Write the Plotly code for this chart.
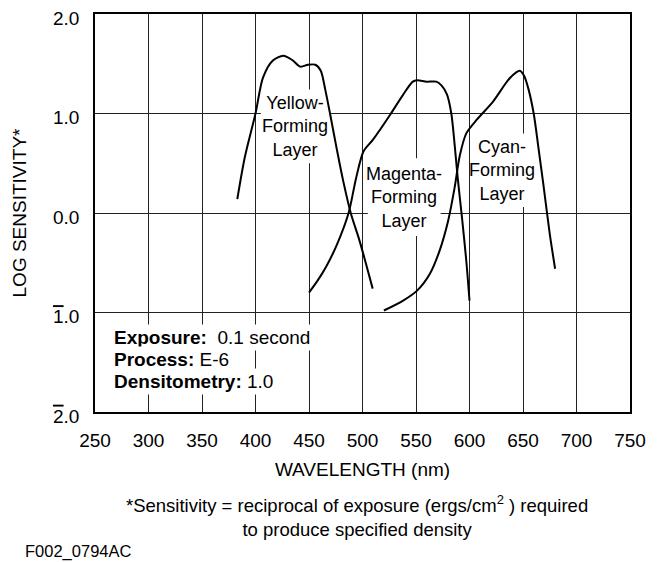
import plotly.graph_objects as go

FONT = "Liberation Sans, Arial, Helvetica, sans-serif"

# ---- data ----
yellow_wl = [383, 390, 400, 407, 416, 426, 434, 442, 449, 456, 461, 465, 470, 476, 482, 489, 497, 503, 509.5]
yellow_ls = [0.14, 0.56, 1.0, 1.36, 1.53, 1.58, 1.54, 1.47, 1.49, 1.49, 1.43, 1.25, 0.98, 0.64, 0.32, 0.0, -0.27, -0.50, -0.76]

magenta_wl = [450, 458, 466, 476, 487, 494, 501, 510, 526, 538, 547, 551, 560, 569, 574, 579, 583, 586, 589, 593, 597, 600]
magenta_ls = [-0.80, -0.68, -0.54, -0.32, 0.0, 0.35, 0.62, 0.74, 0.99, 1.19, 1.32, 1.335, 1.32, 1.32, 1.28, 1.19, 1.0, 0.70, 0.35, -0.05, -0.48, -0.88]

cyan_wl = [520, 538, 551, 563, 572, 580, 586, 591, 597, 607, 622, 638, 647, 651, 655, 660, 664.5, 669, 675, 680]
cyan_ls = [-0.98, -0.88, -0.78, -0.61, -0.38, -0.08, 0.25, 0.58, 0.80, 0.94, 1.12, 1.36, 1.43, 1.38, 1.25, 1.0, 0.65, 0.29, -0.21, -0.56]

x_ticks = [250, 300, 350, 400, 450, 500, 550, 600, 650, 700, 750]
y_ticks = [-2, -1, 0, 1, 2]
y_ticktext = ['<span style="text-decoration:overline">2</span>.0',
              '<span style="text-decoration:overline">1</span>.0',
              "0.0", "1.0", "2.0"]

layer_labels = ["Yellow-<br>Forming<br>Layer", "Magenta-<br>Forming<br>Layer", "Cyan-<br>Forming<br>Layer"]
label_wl = [437, 539, 630]
label_ls = [0.87, 0.16, 0.43]
label_half_w = [32, 34, 28]
label_half_h = [0.37, 0.39, 0.37]

cond_lines = ["<b>Exposure:</b>  0.1 second", "<b>Process:</b> E-6", "<b>Densitometry:</b> 1.0"]
cond_wl = 264.5
cond_ls = [-1.25, -1.47, -1.69]

footnote = "*Sensitivity = reciprocal of exposure (ergs/cm<sup>2</sup> ) required<br>to produce specified density"
fig_id = "F002_0794AC"

fig = go.Figure()
for wl, ls in [(yellow_wl, yellow_ls), (magenta_wl, magenta_ls), (cyan_wl, cyan_ls)]:
    fig.add_trace(go.Scatter(x=wl, y=ls, mode="lines",
                             line=dict(color="black", width=2, shape="spline", smoothing=0.8),
                             showlegend=False, hoverinfo="skip"))

shapes = []
annotations = []
for t, x, y, hw, hh in zip(layer_labels, label_wl, label_ls, label_half_w, label_half_h):
    shapes.append(dict(type="rect", xref="x", yref="y", x0=x - hw, x1=x + hw, y0=y - hh, y1=y + hh,
                       fillcolor="white", line=dict(width=0), layer="between"))
    annotations.append(dict(x=x, y=y, xref="x", yref="y", text=t, showarrow=False,
                            font=dict(family=FONT, size=18, color="black"), align="center"))

for t, y in zip(cond_lines, cond_ls):
    annotations.append(dict(x=cond_wl, y=y, xref="x", yref="y", text=t, showarrow=False,
                            xanchor="left", yanchor="middle", bgcolor="white", borderpad=2,
                            font=dict(family=FONT, size=19, color="black"), align="left"))

annotations.append(dict(x=0.49, y=-0.262, xref="paper", yref="paper", text=footnote, showarrow=False,
                        xanchor="center", yanchor="middle", align="center",
                        font=dict(family=FONT, size=18.5, color="black")))
annotations.append(dict(x=-0.135, y=-0.35, xref="paper", yref="paper", text=fig_id, showarrow=False,
                        xanchor="left", yanchor="middle",
                        font=dict(family=FONT, size=16.5, color="black")))

# page body has an 8px margin; the margins below place the plot box where the reference has it
fig.update_layout(
    width=662, height=562,
    margin=dict(l=87, r=40, t=6, b=158),
    paper_bgcolor="white", plot_bgcolor="white",
    font=dict(family=FONT, size=19, color="black"),
    shapes=shapes, annotations=annotations,
    xaxis=dict(range=[250, 750], tickvals=x_ticks, showgrid=True, gridcolor="#222", gridwidth=1,
               zeroline=False, showline=True, linecolor="black", linewidth=1.5, mirror=True,
               ticks="outside", ticklen=10, tickcolor="rgba(0,0,0,0)", automargin=False,
               ticklabeloverflow="allow",
               tickfont=dict(family=FONT, size=19),
               title=dict(text="WAVELENGTH (nm)", font=dict(family=FONT, size=19), standoff=13)),
    yaxis=dict(range=[-2, 2], tickvals=y_ticks, ticktext=y_ticktext, showgrid=True, gridcolor="#222",
               gridwidth=1, zeroline=False, showline=True, linecolor="black", linewidth=1.5, mirror=True,
               ticks="outside", ticklen=10, tickcolor="rgba(0,0,0,0)", automargin=False,
               ticklabeloverflow="allow", ticklabelshift=4,
               tickfont=dict(family=FONT, size=19),
               title=dict(text="LOG SENSITIVITY*", font=dict(family=FONT, size=19), standoff=21)),
)

fig.write_html("out.html")
